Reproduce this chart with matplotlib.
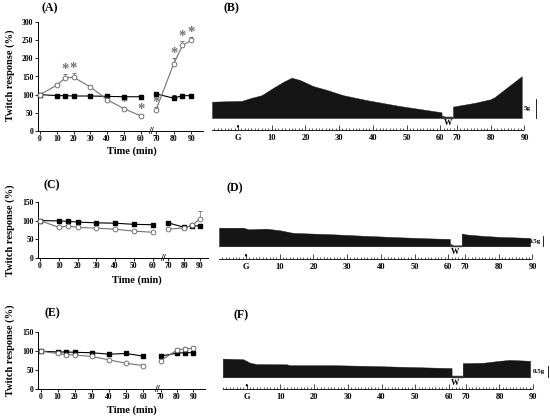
import matplotlib
matplotlib.use("Agg")
import matplotlib.pyplot as plt
import numpy as np

W, H = 550, 419

# ---- twitch response (%) , open circles = test, filled squares = control ----
t_before = [0, 10, 15, 20, 30, 40, 50, 60]
t_after = [70, 80, 85, 90]

a_ctrl = [100, 97, 97, 96, 96, 95, 94, 94]
a_ctrl_w = [102, 90, 97, 97]
a_ctrl_err = [0, 2, 2, 2, 2, 3, 2, 2]
a_ctrl_err_w = [3, 8, 3, 3]
a_test = [100, 126, 146, 148, 121, 86, 61, 41]
a_test_w = [57, 185, 236, 250]
a_test_err = [0, 5, 10, 12, 6, 4, 4, 5]
a_test_err_w = [8, 15, 12, 8]
a_stars = [15, 20, 50, 60, 70, 80, 85, 90]

c_ctrl = [100, 99, 98, 96, 94, 93, 90, 89]
c_ctrl_w = [94, 82, 86, 86]
c_ctrl_err = [0, 3, 3, 3, 3, 3, 3, 3]
c_ctrl_err_w = [3, 3, 3, 3]
c_test = [100, 82, 86, 82, 80, 77, 72, 69]
c_test_w = [77, 81, 87, 105]
c_test_err = [0, 4, 4, 3, 3, 3, 3, 4]
c_test_err_w = [4, 3, 6, 20]

e_ctrl = [100, 98, 98, 97, 96, 92, 94, 87]
e_ctrl_w = [87, 95, 96, 96]
e_ctrl_err = [0, 2, 2, 2, 3, 3, 3, 3]
e_ctrl_err_w = [3, 4, 4, 4]
e_test = [100, 94, 91, 90, 86, 77, 68, 62]
e_test_w = [75, 103, 106, 108]
e_test_err = [0, 3, 3, 3, 3, 3, 3, 3]
e_test_err_w = [4, 5, 6, 7]

# ---- myograph traces: position along chart paper (min), amplitude (g) ----
ruler_ticks = [0, 10, 20, 30, 40, 50, 60, 65, 75, 85]
ruler_labels = ["G", "10", "20", "30", "40", "50", "60", "70", "80", "90"]

b_pos = [-7.7, 1.1, 3.6, 7.0, 10.4, 13.4, 15.9, 18.4, 22.3, 26.3, 31.2, 38.2, 47.7, 60.4]
b_amp = [4.3, 4.5, 5.2, 6.0, 7.9, 9.5, 10.6, 10.0, 8.4, 7.4, 6.0, 4.7, 3.2, 1.5]
b_pos_w = [63.8, 70.3, 74.8, 76.0, 84.2]
b_amp_w = [3.0, 4.0, 4.9, 5.4, 11.0]
b_wash_pos = [60.4, 61.5, 63.8]
b_wash_amp = [0.7, 0.4, 0.4]

d_pos = [-8.0, -0.8, 0.7, 6.1, 10.1, 14.0, 25.9, 35.8, 45.7, 55.6, 60.5]
d_amp = [0.93, 0.93, 0.85, 0.88, 0.80, 0.67, 0.60, 0.52, 0.45, 0.39, 0.37]
d_pos_w = [64.0, 65.5, 70.4, 75.4, 84.3]
d_amp_w = [0.64, 0.59, 0.52, 0.47, 0.42]
d_wash_pos = [60.5, 61.5, 64.0]
d_wash_amp = [0.15, 0.05, 0.05]

f_pos = [-7.1, -1.0, 1.0, 3.0, 11.9, 12.8, 25.7, 35.6, 45.5, 55.4, 60.8]
f_amp = [0.85, 0.82, 0.66, 0.60, 0.59, 0.55, 0.55, 0.52, 0.48, 0.44, 0.42]
f_pos_w = [64.1, 70.2, 75.1, 78.1, 84.1]
f_amp_w = [0.64, 0.66, 0.75, 0.79, 0.75]
f_wash_pos = [60.8, 64.1]
f_wash_amp = [0.05, 0.05]

plt.rcParams["font.family"] = ["Liberation Serif", "DejaVu Serif"]
plt.rcParams["font.weight"] = "bold"

GRAY = "#737373"


def px_axes(fig, x0, y0, x1, y1):
    return fig.add_axes([x0 / W, 1 - y1 / H, (x1 - x0) / W, (y1 - y0) / H])


def fig_text(fig, x, y, s, **kw):
    fig.text(x / W, 1 - y / H, s, **kw)


def draw_series(ax, t, ctrl, ctrl_err, test, test_err):
    z = [0] * len(t)
    ax.errorbar(t, ctrl, yerr=[z, ctrl_err], fmt="-s", color="k", ms=2.6, lw=0.8,
                capsize=1.3, elinewidth=0.5, capthick=0.5, zorder=3, clip_on=False)
    ax.errorbar(t, test, yerr=[z, test_err], fmt="-o", color=GRAY, mfc="white", mec=GRAY,
                mew=0.7, ms=3.4, lw=0.8, capsize=1.3, elinewidth=0.5, capthick=0.5,
                zorder=4, clip_on=False)


def add_stars(ax, t, test, test_err, stars):
    for x, y, e in zip(t, test, test_err):
        if x in stars:
            ax.annotate("*", (x, y + e), xytext=(0, 0.8), textcoords="offset points",
                        ha="center", va="baseline", fontsize=10.5, color=GRAY,
                        annotation_clip=False)


def line_panel(fig, lay, ymax, yticks, before, after, stars=()):
    s1 = (lay["p60"] - lay["zero"]) / 60
    s2 = (lay["p90"] - lay["p70"]) / 20
    axl = px_axes(fig, lay["left"], lay["top"], lay["brk"], lay["bottom"])
    axr = px_axes(fig, lay["brk"], lay["top"], lay["end"], lay["bottom"])
    axl.set_xlim((lay["left"] - lay["zero"]) / s1, (lay["brk"] - lay["zero"]) / s1)
    axr.set_xlim(70 - (lay["p70"] - lay["brk"]) / s2, 90 + (lay["end"] - lay["p90"]) / s2)

    draw_series(axl, t_before, *before)
    draw_series(axr, t_after, *after)
    add_stars(axl, t_before, before[2], before[3], stars)
    add_stars(axr, t_after, after[2], after[3], stars)

    for ax in (axl, axr):
        ax.set_ylim(0, ymax)
        ax.patch.set_alpha(0)
        for sp in ("top", "right"):
            ax.spines[sp].set_visible(False)
        for sp in ("left", "bottom"):
            ax.spines[sp].set_linewidth(0.7)
        ax.tick_params(length=2, width=0.6, labelsize=5.5, pad=1)
    axl.set_yticks(yticks)
    axl.set_xticks([0, 10, 20, 30, 40, 50, 60])
    axr.set_xticks([70, 80, 90])
    axr.spines["left"].set_visible(False)
    axr.set_yticks([])
    fig_text(fig, lay["brk"], lay["bottom"] + 0.5, "//", fontsize=7.5, ha="center",
             va="center")
    fig_text(fig, lay["xl_x"], lay["xl_y"], "Time (min)", fontsize=7.5, ha="center", va="center")
    fig_text(fig, 10, lay["yl_y"], "Twitch response (%)", fontsize=7.5, ha="center",
             va="center", rotation=90)


def trace_panel(fig, lay, pos, amp, pos_w, amp_w, wash_pos, wash_amp, bar, bar_label):
    k = lay["k"]
    ax = px_axes(fig, 200, lay["y0"], 550, lay["y1"])
    ax.set_xlim((200 - lay["g"]) / 3.37, (550 - lay["g"]) / 3.37)
    ax.set_ylim((lay["base"] - lay["y1"]) / k, (lay["base"] - lay["y0"]) / k)
    ax.patch.set_alpha(0)
    ax.fill_between(pos, 0, amp, color="#151515", lw=0.3)
    ax.fill_between(pos_w, 0, amp_w, color="#151515", lw=0.3)
    ax.fill_between(wash_pos, -0.02 * bar, wash_amp, color="#333333", lw=0.3)

    ruler_y = (lay["base"] - lay["ruler"]) / k
    for sp in ("top", "right", "left"):
        ax.spines[sp].set_visible(False)
    ax.spines["bottom"].set_position(("data", ruler_y))
    ax.spines["bottom"].set_bounds(pos[0], 84.6)
    ax.spines["bottom"].set_linewidth(0.6)
    ax.set_yticks([])
    ax.set_xticks(ruler_ticks, ruler_labels)
    ax.set_xticks(np.arange(-7, 85, 1), minor=True)
    ax.tick_params(axis="x", which="major", direction="in", length=3.5, width=0.5,
                   labelsize=6, pad=3)
    ax.tick_params(axis="x", which="minor", direction="in", length=1.6, width=0.45)

    ax.annotate("", xy=(0, ruler_y + 5.5 / k), xytext=(0, ruler_y + 0.5 / k),
                arrowprops=dict(arrowstyle="-|>", lw=0.5, mutation_scale=3, color="k"))
    ax.text(lay["w_x"], (lay["base"] - lay["w_y"]) / k, "W", fontsize=6,
            ha="center", va="center")
    bx = (lay["bar_x"] - lay["g"]) / 3.37
    ax.plot([bx, bx], [0, bar], color="k", lw=0.6, clip_on=False)
    ax.text(bx - 2.5, bar / 2, bar_label, fontsize=5, ha="center", va="center")


fig = plt.figure(figsize=(W / 100, H / 100), dpi=100)

lay_a = dict(left=37.5, zero=40, p60=140.7, p70=156, p90=191.3, end=203, brk=150.7,
             top=22.3, bottom=130.7, xl_x=131.7, xl_y=151, yl_y=75)
lay_c = dict(left=38, zero=40, p60=152.7, p70=168.3, p90=200, end=208, brk=162.7,
             top=201.7, bottom=258.3, xl_x=136.7, xl_y=280, yl_y=230)
lay_e = dict(left=38, zero=40.5, p60=143.3, p70=160.7, p90=193.3, end=205, brk=156.7,
             top=332.3, bottom=389, xl_x=131.7, xl_y=410, yl_y=350)

line_panel(fig, lay_a, 300, [0, 50, 100, 150, 200, 250, 300],
           (a_ctrl, a_ctrl_err, a_test, a_test_err),
           (a_ctrl_w, a_ctrl_err_w, a_test_w, a_test_err_w), a_stars)
line_panel(fig, lay_c, 150, [0, 50, 100, 150],
           (c_ctrl, c_ctrl_err, c_test, c_test_err),
           (c_ctrl_w, c_ctrl_err_w, c_test_w, c_test_err_w))
line_panel(fig, lay_e, 150, [0, 50, 100, 150],
           (e_ctrl, e_ctrl_err, e_test, e_test_err),
           (e_ctrl_w, e_ctrl_err_w, e_test_w, e_test_err_w))

lay_b = dict(y0=55, y1=145, base=118, k=3.8, g=238, ruler=130, w_x=62.2, w_y=122.7,
             bar_x=536)
lay_d = dict(y0=215, y1=275, base=246.3, k=20, g=246, ruler=259, w_x=62.0, w_y=251.7,
             bar_x=543.3)
lay_f = dict(y0=345, y1=405, base=377.3, k=22, g=246.7, ruler=389, w_x=61.8, w_y=383.3,
             bar_x=547.7)

trace_panel(fig, lay_b, b_pos, b_amp, b_pos_w, b_amp_w, b_wash_pos, b_wash_amp, 5, "5g")
trace_panel(fig, lay_d, d_pos, d_amp, d_pos_w, d_amp_w, d_wash_pos, d_wash_amp, 0.5, "0.5g")
trace_panel(fig, lay_f, f_pos, f_amp, f_pos_w, f_amp_w, f_wash_pos, f_wash_amp, 0.5, "0.5g")

for x, y, s in [(50, 8, "(A)"), (231, 8, "(B)"), (52, 185, "(C)"),
                (235, 188, "(D)"), (52, 313, "(E)"), (241, 315, "(F)")]:
    fig_text(fig, x, y, s, fontsize=8.5, ha="center", va="center")

fig.savefig("out.png", dpi=100)
